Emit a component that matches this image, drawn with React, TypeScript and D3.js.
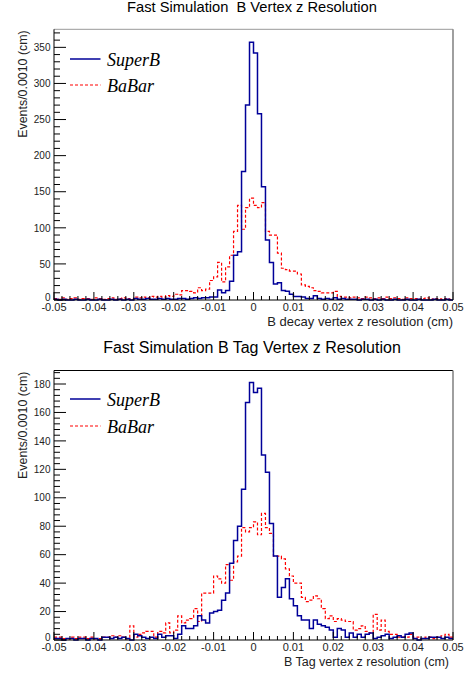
import React from 'react';
import * as d3 from 'd3';

const X_MIN = -0.05;
const X_MAX = 0.05;
const N_BINS = 100;
const xTickValues = [-0.05, -0.04, -0.03, -0.02, -0.01, 0, 0.01, 0.02, 0.03, 0.04, 0.05];
const xTickLabels = ['-0.05', '-0.04', '-0.03', '-0.02', '-0.01', '0', '0.01', '0.02', '0.03', '0.04', '0.05'];

const topYTicks = [0, 50, 100, 150, 200, 250, 300, 350];
const botYTicks = [0, 20, 40, 60, 80, 100, 120, 140, 160, 180];

const topSuperB = [
  1, 0, 1, 0, 0, 1, 0, 0, 1, 0,
  0, 1, 0, 0, 1, 0, 1, 0, 1, 0,
  2, 1, 1, 2, 1, 1, 2, 1, 2, 1,
  1, 2, 2, 1, 2, 3, 2, 3, 3, 4,
  4, 14, 10, 13, 26, 62, 67, 178, 270, 357,
  342, 258, 157, 83, 52, 22, 24, 13, 12, 8,
  5, 5, 4, 2, 2, 6, 2, 1, 2, 1,
  3, 1, 2, 1, 1, 1, 0, 1, 1, 0,
  1, 0, 1, 0, 0, 1, 0, 0, 1, 0,
  0, 1, 0, 0, 0, 1, 0, 0, 1, 0,
];

const topBaBar = [
  2, 1, 3, 1, 2, 3, 1, 2, 2, 1,
  3, 2, 1, 2, 3, 1, 2, 3, 2, 1,
  4, 3, 4, 3, 5, 4, 5, 4, 6, 5,
  8, 7, 13, 13, 12, 10, 17, 13, 15, 27,
  32, 52, 25, 46, 62, 95, 131, 98, 128, 141,
  131, 128, 135, 95, 90, 90, 65, 44, 42, 40,
  40, 36, 21, 19, 17, 13, 12, 10, 10, 10,
  12, 5, 4, 4, 3, 4, 3, 2, 4, 3,
  2, 3, 2, 4, 2, 3, 2, 1, 3, 2,
  2, 1, 2, 3, 1, 2, 2, 1, 2, 1,
];

const botSuperB = [
  1, 1, 0, 1, 1, 0, 1, 1, 0, 1,
  1, 0, 2, 2, 1, 2, 1, 2, 1, 0,
  4, 3, 2, 1, 2, 1, 4, 2, 3, 3,
  1, 4, 10, 8, 8, 10, 17, 14, 12, 19,
  20, 21, 28, 33, 54, 70, 80, 106, 167, 181,
  174, 177, 130, 118, 82, 59, 30, 37, 43, 29,
  24, 17, 14, 14, 8, 14, 11, 10, 9, 7,
  2, 8, 7, 2, 5, 2, 4, 2, 4, 5,
  1, 2, 3, 4, 1, 2, 3, 2, 4, 5,
  1, 0, 1, 1, 2, 2, 2, 1, 2, 1,
];

const botBaBar = [
  2, 2, 1, 1, 2, 1, 2, 2, 1, 2,
  1, 1, 2, 2, 3, 2, 3, 2, 1, 10,
  2, 4, 5, 6, 6, 2, 6, 5, 12, 5,
  7, 17, 12, 14, 15, 22, 13, 33, 33, 33,
  45, 43, 40, 53, 42, 55, 59, 79, 76, 79,
  83, 74, 89, 79, 75, 59, 59, 57, 50, 45,
  40, 40, 30, 27, 28, 31, 29, 22, 15, 17,
  13, 15, 14, 13, 13, 7, 8, 10, 6, 5,
  18, 7, 14, 6, 4, 4, 2, 2, 2, 4,
  2, 2, 1, 2, 2, 1, 2, 3, 4, 2,
];

const SANS = 'Liberation Sans, Arial, Helvetica, sans-serif';
const SERIF = 'Liberation Serif, Times New Roman, serif';
const BLUE = '#000099';
const RED = '#ff0000';

type PanelProps = {
  superB: number[];
  babar: number[];
  yMax: number;
  yTicks: number[];
  yMinorStep: number;
  top: number;
  bottom: number;
  title: string;
  titleY: number;
  titleSize: number;
  xTitle: string;
  xTitleRight: number;
  xTitleY: number;
  xTitleSize: number;
  legendY1: number;
  legendY2: number;
  topBorder: string;
};

const LEFT = 54;
const RIGHT = 453;

function Panel(p: PanelProps) {
  const x = d3.scaleLinear().domain([X_MIN, X_MAX]).range([LEFT, RIGHT]);
  const y = d3.scaleLinear().domain([0, p.yMax]).range([p.bottom, p.top]);
  const binW = (X_MAX - X_MIN) / N_BINS;
  const edges = d3.range(N_BINS + 1).map((i) => X_MIN + i * binW);
  const mk = (vals: number[]) => {
    const pts: [number, number][] = vals.map((v, i) => [edges[i], v]);
    pts.push([edges[N_BINS], vals[N_BINS - 1]]);
    return d3
      .line<[number, number]>()
      .x((d) => x(d[0]))
      .y((d) => y(d[1]))
      .curve(d3.curveStepAfter)(pts) as string;
  };
  const xMinor = d3.range(0, 51).map((i) => X_MIN + i * 0.002);
  const yMinor = d3.range(0, p.yMax + 0.001, p.yMinorStep);
  const xMajLen = 8;
  const xMinLen = 4;
  const yMajLen = 12;
  const yMinLen = 6;
  return (
    <g>
      <text
        x={252}
        y={p.titleY}
        textAnchor="middle"
        fontFamily={SANS}
        fontSize={p.titleSize}
        fill="#000"
        style={{ whiteSpace: 'pre' }}
      >
        {p.title}
      </text>
      {/* frame */}
      <line x1={LEFT} x2={RIGHT} y1={p.top} y2={p.top} stroke={p.topBorder} strokeWidth={1} />
      <line x1={RIGHT} x2={RIGHT} y1={p.top} y2={p.bottom} stroke="#888" strokeWidth={1.6} />
      {/* histograms */}
      <path d={mk(p.babar)} fill="none" stroke={RED} strokeWidth={1.2} strokeDasharray="3,2" />
      <path d={mk(p.superB)} fill="none" stroke={BLUE} strokeWidth={1.5} />
      {/* axes */}
      <line x1={LEFT} x2={RIGHT} y1={p.bottom} y2={p.bottom} stroke="#000" strokeWidth={1} />
      <line x1={LEFT} x2={LEFT} y1={p.top} y2={p.bottom} stroke="#000" strokeWidth={1} />
      {xMinor.map((v, i) => (
        <line
          key={'xm' + i}
          x1={x(v)}
          x2={x(v)}
          y1={p.bottom}
          y2={p.bottom - (i % 5 === 0 ? xMajLen : xMinLen)}
          stroke="#000"
          strokeWidth={1}
        />
      ))}
      {xTickValues.map((v, i) => (
        <text
          key={'xl' + i}
          x={x(v)}
          y={p.bottom + 11}
          textAnchor="middle"
          fontFamily={SANS}
          fontSize={11}
          fill="#222"
        >
          {xTickLabels[i]}
        </text>
      ))}
      {yMinor.map((v, i) => (
        <line
          key={'ym' + i}
          x1={LEFT}
          x2={LEFT + (p.yTicks.includes(Math.round(v)) ? yMajLen : yMinLen)}
          y1={y(v)}
          y2={y(v)}
          stroke="#000"
          strokeWidth={1}
        />
      ))}
      {p.yTicks.map((v, i) => (
        <text
          key={'yl' + i}
          x={50.5}
          y={v === 0 ? y(v) + 1.2 : y(v) + 3.7}
          textAnchor="end"
          fontFamily={SANS}
          fontSize={10}
          fill="#222"
        >
          {String(v)}
        </text>
      ))}
      <text
        transform={`translate(26.5,${p.top + 1}) rotate(-90)`}
        textAnchor="end"
        fontFamily={SANS}
        fontSize={12.4}
        fill="#222"
      >
        Events/0.0010 (cm)
      </text>
      <text
        x={p.xTitleRight}
        y={p.xTitleY}
        textAnchor="end"
        fontFamily={SANS}
        fontSize={p.xTitleSize}
        fill="#222"
      >
        {p.xTitle}
      </text>
      {/* legend */}
      <line x1={70} x2={100.5} y1={p.legendY1 - 7} y2={p.legendY1 - 7} stroke={BLUE} strokeWidth={1.5} />
      <text x={107} y={p.legendY1} fontFamily={SERIF} fontStyle="italic" fontSize={18} fill="#000">
        SuperB
      </text>
      <line
        x1={70}
        x2={100.5}
        y1={p.legendY2 - 7}
        y2={p.legendY2 - 7}
        stroke={RED}
        strokeWidth={1.2}
        strokeDasharray="3,2"
      />
      <text x={107} y={p.legendY2} fontFamily={SERIF} fontStyle="italic" fontSize={18} fill="#000">
        BaBar
      </text>
    </g>
  );
}

export default function App() {
  return (
    <svg
      width={468}
      height={675}
      viewBox="0 0 468 675"
      style={{ position: 'absolute', left: 0, top: 0, background: '#fff' }}
    >
      <rect x={0} y={0} width={468} height={675} fill="#fff" />
      <Panel
        superB={topSuperB}
        babar={topBaBar}
        yMax={375}
        yTicks={topYTicks}
        yMinorStep={10}
        top={29.3}
        bottom={300}
        title="Fast Simulation  B Vertex z Resolution"
        titleY={12.3}
        titleSize={14.7}
        xTitle="B decay vertex z resolution (cm)"
        xTitleRight={453}
        xTitleY={325.5}
        xTitleSize={13}
        legendY1={66}
        legendY2={92}
        topBorder="#999"
      />
      <Panel
        superB={botSuperB}
        babar={botBaBar}
        yMax={189.5}
        yTicks={botYTicks}
        yMinorStep={4}
        top={370.5}
        bottom={640}
        title="Fast Simulation B Tag Vertex z Resolution"
        titleY={353}
        titleSize={16}
        xTitle="B Tag vertex z resolution (cm)"
        xTitleRight={449}
        xTitleY={665.5}
        xTitleSize={12.5}
        legendY1={406}
        legendY2={433}
        topBorder="#000"
      />
    </svg>
  );
}
